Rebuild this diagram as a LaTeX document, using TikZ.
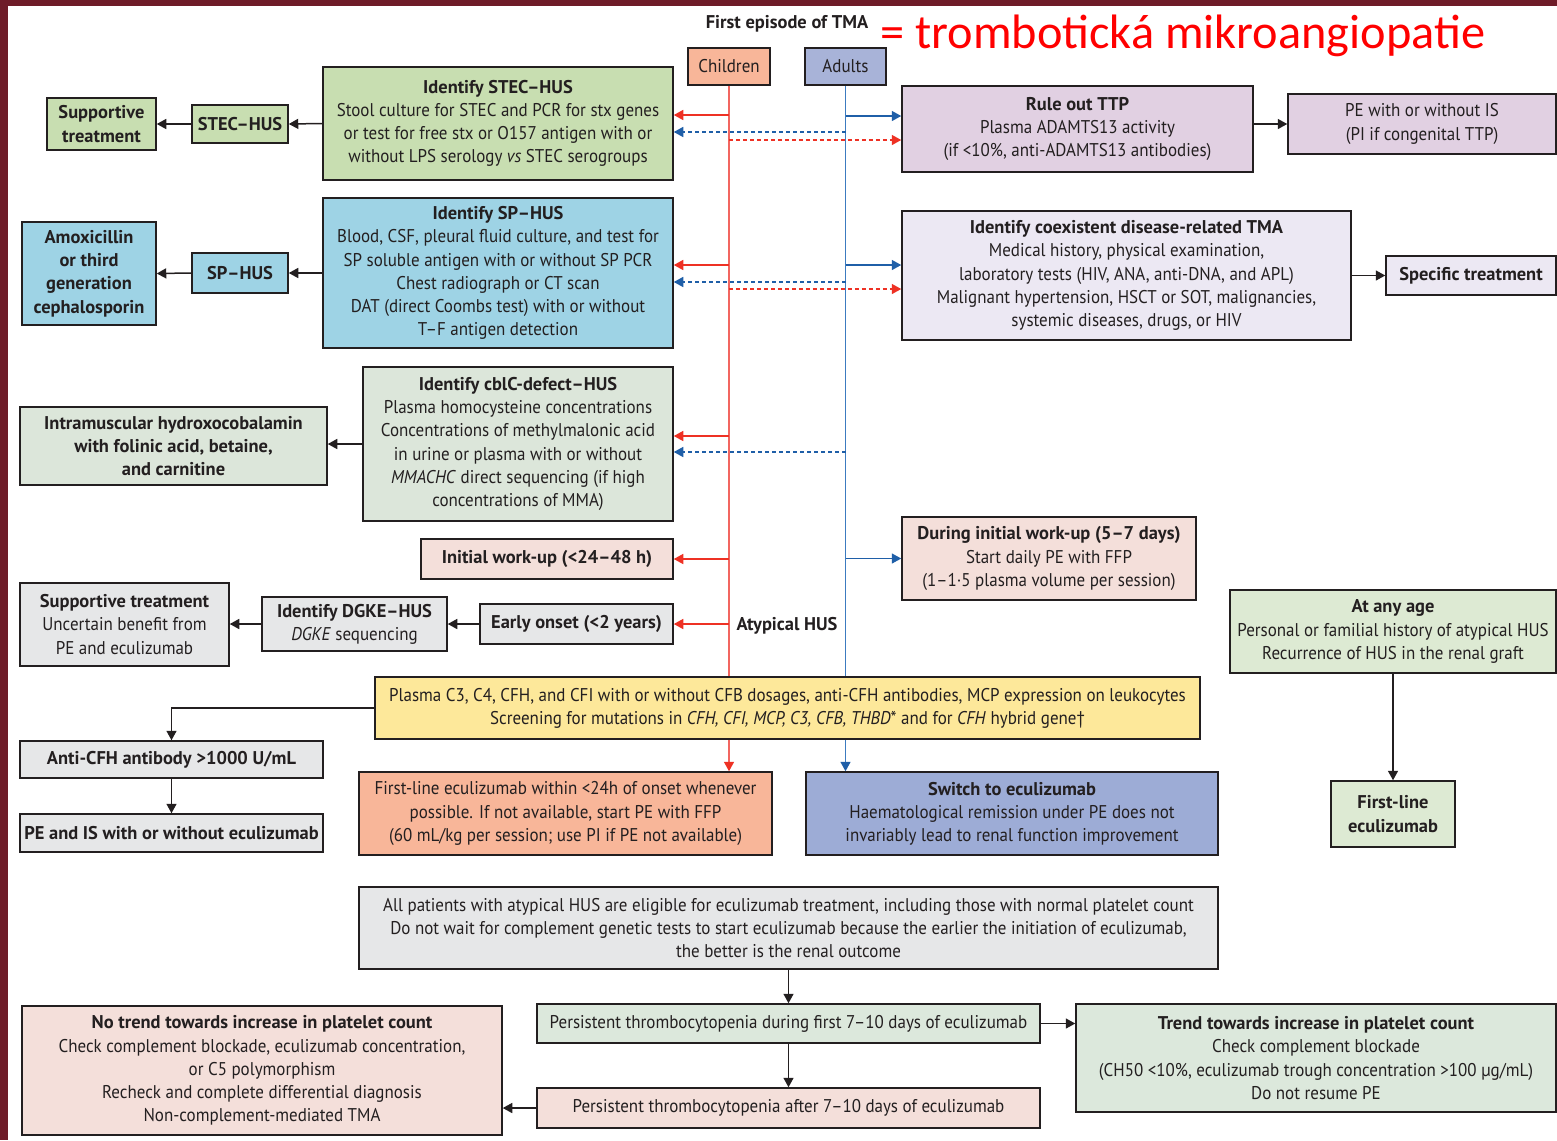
\documentclass[tikz,border=0pt]{standalone}
\usepackage{fontspec}
\setmainfont{PT Sans}[FakeStretch=0.92,BoldFeatures={FakeStretch=1.0},BoldItalicFeatures={FakeStretch=1.0}]
\newfontfamily\headfont{Carlito}
\usetikzlibrary{arrows.meta}

\definecolor{slide}{HTML}{6E1C28}
\definecolor{ink}{HTML}{231F20}
\definecolor{arrred}{HTML}{EE3124}
\definecolor{linered}{HTML}{F26660}
\definecolor{arrblue}{HTML}{1F5FA8}
\definecolor{lineblue}{HTML}{3C7BC0}
\definecolor{cgreen}{HTML}{C8DEB1}
\definecolor{cblue}{HTML}{9ED3E5}
\definecolor{cgrgreen}{HTML}{DCE6DA}
\definecolor{cpink}{HTML}{F4DFDA}
\definecolor{cgrey}{HTML}{E6E7E8}
\definecolor{cyellow}{HTML}{FDE89A}
\definecolor{csalmon}{HTML}{F8B699}
\definecolor{cperi}{HTML}{9DACD6}
\definecolor{cadult}{HTML}{A8B3D8}
\definecolor{cmauve}{HTML}{E1D0E2}
\definecolor{clav}{HTML}{ECE8F3}
\definecolor{cmint}{HTML}{DDEAD3}
\definecolor{csage}{HTML}{DCE8DC}

\newcommand{\bodysize}{\fontsize{10.5}{13.2}\selectfont}
% box by pixel corners: name, style, x1, y1, x2, y2, text
\newcommand{\pbox}[7]{%
  \node[box,#2,minimum width={(#5-#3)*0.02cm},minimum height={(#6-#4)*0.02cm}]
    (#1) at ({(#3+#5)/2},{(#4+#6)/2}) {#7};}

\begin{document}
\begin{tikzpicture}[x=0.02cm,y=-0.02cm,
  box/.style={draw=ink,line width=0.03cm,inner sep=0pt,align=center,
    font=\bodysize,text=ink},
  tip/.style={-{Triangle[length=0.19cm,width=0.2cm]}},
  arr/.style={tip,draw=ink,line width=0.03cm},
  redarr/.style={-{Triangle[length=0.19cm,width=0.2cm,color=arrred]},
    draw=arrred,line width=0.03cm},
  bluearr/.style={-{Triangle[length=0.19cm,width=0.2cm,color=arrblue]},
    draw=arrblue,line width=0.03cm},
  redline/.style={draw=linered,line width=0.03cm},
  blueline/.style={draw=lineblue,line width=0.03cm},
  dashline/.style={dash pattern=on 0.08cm off 0.06cm},
  lbl/.style={inner sep=0pt,font=\bodysize\bfseries,text=ink}]

% slide frame
\fill[slide] (0,0) rectangle (1557,1140);
\fill[white] (8,6) rectangle (1557,1140);
\useasboundingbox (0,0) rectangle (1557,1140);

% heading
\node[lbl] (title) at (787,24) {First episode of TMA};
\node[inner sep=0pt,anchor=west,text=red,font=\headfont\fontsize{27.5}{30}\selectfont]
  (tma) at (880,36) {= trombotická mikroangiopatie};

% branch heads
\pbox{children}{fill=csalmon}{688}{48}{770}{85}{Children}
\pbox{adults}{fill=cadult}{805}{48}{886}{85}{Adults}

% children side
\pbox{stec}{fill=cgreen}{323}{67}{673}{180}{\textbf{Identify STEC–HUS}\\Stool culture for STEC and PCR for stx genes\\or test for free stx or O157 antigen with or\\without LPS serology \textit{vs} STEC serogroups}
\pbox{stechus}{fill=cgreen,font=\bodysize\bfseries}{192}{105}{288}{143}{STEC–HUS}
\pbox{supp}{fill=cgreen,font=\bodysize\bfseries}{47}{98}{156}{150}{Supportive\\treatment}

\pbox{sp}{fill=cblue}{323}{198}{673}{348}{\textbf{Identify SP–HUS}\\Blood, CSF, pleural fluid culture, and test for\\SP soluble antigen with or without SP PCR\\Chest radiograph or CT scan\\DAT (direct Coombs test) with or without\\T–F antigen detection}
\pbox{sphus}{fill=cblue,font=\bodysize\bfseries}{192}{253}{288}{293}{SP–HUS}
\pbox{amox}{fill=cblue,font=\bodysize\bfseries}{22}{222}{156}{325}{Amoxicillin\\or third\\generation\\cephalosporin}

\pbox{cblc}{fill=cgrgreen}{363}{367}{673}{521}{\textbf{Identify cblC-defect–HUS}\\Plasma homocysteine concentrations\\Concentrations of methylmalonic acid\\in urine or plasma with or without\\\textit{MMACHC} direct sequencing (if high\\concentrations of MMA)}
\pbox{hydro}{fill=cgrgreen,font=\bodysize\bfseries}{20}{407}{327}{485}{Intramuscular hydroxocobalamin\\with folinic acid, betaine,\\and carnitine}

\pbox{initial}{fill=cpink,font=\bodysize\bfseries}{421}{539}{673}{579}{Initial work-up (<24–48 h)}
\pbox{early}{fill=cgrey,font=\bodysize\bfseries}{480}{604}{673}{644}{Early onset (<2 years)}
\pbox{dgke}{fill=cgrey}{262}{597}{447}{651}{\textbf{Identify DGKE–HUS}\\\textit{DGKE} sequencing}
\pbox{supp2}{fill=cgrey}{20}{583}{229}{666}{\textbf{Supportive treatment}\\Uncertain benefit from\\PE and eculizumab}
\node[lbl] (atyp) at (787,626) {Atypical HUS};

\pbox{screen}{fill=cyellow}{375}{677}{1200}{739}{Plasma C3, C4, CFH, and CFI with or without CFB dosages, anti-CFH antibodies, MCP expression on leukocytes\\Screening for mutations in \textit{CFH, CFI, MCP, C3, CFB, THBD}* and for \textit{CFH} hybrid gene†}
\pbox{anticfh}{fill=cgrey,font=\bodysize\bfseries}{20}{741}{323}{778}{Anti-CFH antibody >1000 U/mL}
\pbox{peis}{fill=cgrey,font=\bodysize\bfseries}{20}{814}{323}{852}{PE and IS with or without eculizumab}
\pbox{firstl}{fill=csalmon}{359}{772}{772}{855}{First-line eculizumab within <24h of onset whenever\\possible. If not available, start PE with FFP\\(60 mL/kg per session; use PI if PE not available)}
\pbox{switch}{fill=cperi}{806}{772}{1218}{855}{\textbf{Switch to eculizumab}\\Haematological remission under PE does not\\invariably lead to renal function improvement}

% adults side
\pbox{ruleout}{fill=cmauve}{902}{86}{1253}{172}{\textbf{Rule out TTP}\\Plasma ADAMTS13 activity\\(if <10\%, anti-ADAMTS13 antibodies)}
\pbox{peis2}{fill=cmauve}{1288}{94}{1556}{154}{PE with or without IS\\(PI if congenital TTP)}
\pbox{coexist}{fill=clav}{902}{211}{1351}{340}{\textbf{Identify coexistent disease-related TMA}\\Medical history, physical examination,\\laboratory tests (HIV, ANA, anti-DNA, and APL)\\Malignant hypertension, HSCT or SOT, malignancies,\\systemic diseases, drugs, or HIV}
\pbox{specific}{fill=clav,font=\bodysize\bfseries}{1386}{256}{1556}{295}{Specific treatment}
\pbox{during}{fill=cpink}{902}{517}{1196}{600}{\textbf{During initial work-up (5–7 days)}\\Start daily PE with FFP\\(1–1·5 plasma volume per session)}
\pbox{anyage}{fill=cmint}{1230}{590}{1556}{673}{\textbf{At any age}\\Personal or familial history of atypical HUS\\Recurrence of HUS in the renal graft}
\pbox{firstr}{fill=cmint,font=\bodysize\bfseries}{1331}{781}{1455}{847}{First-line\\eculizumab}

% eculizumab follow-up
\pbox{allpat}{fill=cgrey}{359}{887}{1218}{969}{All patients with atypical HUS are eligible for eculizumab treatment, including those with normal platelet count\\Do not wait for complement genetic tests to start eculizumab because the earlier the initiation of eculizumab,\\the better is the renal outcome}
\pbox{pdur}{fill=csage}{537}{1004}{1040}{1043}{Persistent thrombocytopenia during first 7–10 days of eculizumab}
\pbox{trend}{fill=csage}{1076}{1004}{1556}{1112}{\textbf{Trend towards increase in platelet count}\\Check complement blockade\\(CH50 <10\%, eculizumab trough concentration >100 µg/mL)\\Do not resume PE}
\pbox{paft}{fill=cpink}{537}{1088}{1040}{1128}{Persistent thrombocytopenia after 7–10 days of eculizumab}
\pbox{notrend}{fill=cpink}{22}{1006}{502}{1135}{\textbf{No trend towards increase in platelet count}\\Check complement blockade, eculizumab concentration,\\or C5 polymorphism\\Recheck and complete differential diagnosis\\Non-complement-mediated TMA}

% trunk lines
\draw[redline] (children.south) -- (children.south |- screen.north);
\draw[redline,-{Triangle[length=0.19cm,width=0.2cm,color=arrred]}]
  (children.south |- screen.south) -- (children.south |- firstl.north);
\draw[blueline] (adults.south) -- (adults.south |- screen.north);
\draw[blueline,-{Triangle[length=0.19cm,width=0.2cm,color=arrblue]}]
  (adults.south |- screen.south) -- (adults.south |- switch.north);

% branches to the left
\draw[redarr] (children.south |- 0,115) -- (stec.east |- 0,115);
\draw[bluearr,dashline] (adults.south |- 0,132) -- (stec.east |- 0,132);
\draw[redarr] (children.south |- 0,265) -- (sp.east |- 0,265);
\draw[bluearr,dashline] (adults.south |- 0,282) -- (sp.east |- 0,282);
\draw[redarr] (children.south |- 0,436) -- (cblc.east |- 0,436);
\draw[bluearr,dashline] (adults.south |- 0,452) -- (cblc.east |- 0,452);
\draw[redarr] (children.south |- initial.east) -- (initial.east);
\draw[redarr] (children.south |- early.east) -- (early.east);

% branches to the right
\draw[bluearr] (adults.south |- 0,116) -- (ruleout.west |- 0,116);
\draw[redarr,dashline] (children.south |- 0,140) -- (ruleout.west |- 0,140);
\draw[bluearr] (adults.south |- 0,265) -- (coexist.west |- 0,265);
\draw[redarr,dashline] (children.south |- 0,289) -- (coexist.west |- 0,289);
\draw[bluearr] (adults.south |- during.west) -- (during.west);

% black connectors
\draw[arr] (stec.west) -- (stechus.east);
\draw[arr] (stechus.west) -- (supp.east);
\draw[arr] (sp.west) -- (sphus.east);
\draw[arr] (sphus.west) -- (amox.east);
\draw[arr] (cblc.west) -- (cblc.west -| hydro.east);
\draw[arr] (early.west) -- (dgke.east);
\draw[arr] (dgke.west) -- (dgke.west -| supp2.east);
\draw[arr] (screen.west) -| (anticfh.north);
\draw[arr] (anticfh.south) -- (peis.north);
\draw[arr] (ruleout.east |- peis2.west) -- (peis2.west);
\draw[arr] (coexist.east |- specific.west) -- (specific.west);
\draw[arr] (anyage.south) -- (firstr.north);
\draw[arr] (allpat.south) -- (pdur.north);
\draw[arr] (pdur.south) -- (paft.north);
\draw[arr] (pdur.east) -- (pdur.east -| trend.west);
\draw[arr] (paft.west) -- (paft.west -| notrend.east);
\end{tikzpicture}
\end{document}
